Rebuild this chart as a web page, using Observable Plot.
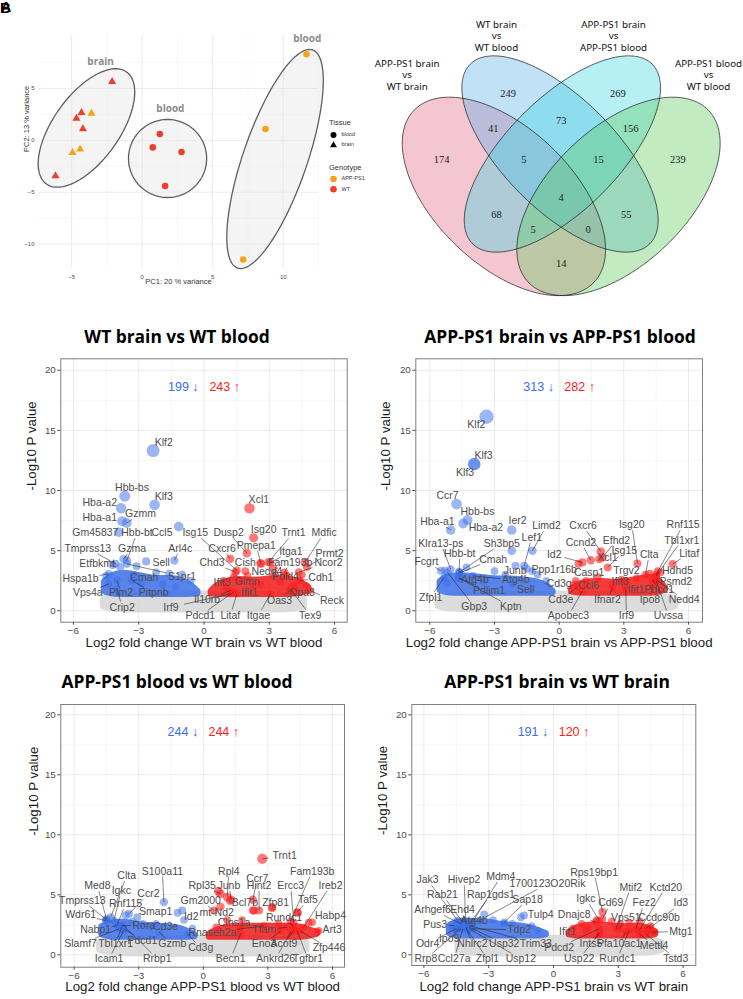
<!DOCTYPE html>
<html><head><meta charset="utf-8">
<script src="https://cdn.jsdelivr.net/npm/d3@7"></script>
<script src="https://cdn.jsdelivr.net/npm/@observablehq/plot@0.6"></script>
<style>
html,body{margin:0;padding:0;background:#fff;}
body{width:743px;height:999px;position:relative;overflow:hidden;font-family:"Liberation Sans",Arial,sans-serif;}
.box{position:absolute;}
.title{position:absolute;font-family:"Open Sans",sans-serif;font-weight:700;font-size:17.4px;color:#000;white-space:nowrap;transform:translate(-50%,-50%);line-height:1;}
.leg{position:absolute;font-family:"Liberation Sans",Arial,sans-serif;color:#333;white-space:nowrap;transform:translateY(-50%);line-height:1;}
</style></head><body>
<script>
// ================= DATA =================
// --- PCA ---
const pcaPC1 = [-2.13,-4.3,-3.6,-4.66,-4.2,-4.4,-4.94,-6.15, 1.25,0.75,2.79,1.63, 11.65,8.74,7.16];
const pcaPC2 = [5.65,2.66,2.6,2.12,1.09,-0.84,-1.2,-3.44, 0.61,-0.68,-1.13,-4.4, 8.29,1.09,-11.48];
const pcaTissue = ["brain","brain","brain","brain","brain","brain","brain","brain","blood","blood","blood","blood","blood","blood","blood"];
const pcaGenotype = ["WT","WT","APP-PS1","WT","WT","APP-PS1","APP-PS1","WT","WT","WT","WT","WT","APP-PS1","APP-PS1","APP-PS1"];
const pcaGroupName = ["brain","blood","blood"];
const pcaGroupLabelX = [-2.95, 2.0, 11.7];
const pcaGroupLabelY = [7.58, 3.02, 9.74];
const pcaEllipseCenter = [[-3.95,1.19],[1.8,-1.75],[9.42,-1.8]];
const pcaEllipseAxisU = [[2.84,5.40],[2.77,0],[2.66,10.51]];
const pcaEllipseAxisV = [[1.91,-1.85],[0,3.76],[2.15,-1.0]];

// --- Venn ---
const vennSetNames = ["APP-PS1 brain\nvs\nWT brain","WT brain\nvs\nWT blood","APP-PS1 brain\nvs\nAPP-PS1 blood","APP-PS1 blood\nvs\nWT blood"];
const vennCounts = [174,249,269,239,41,73,156,5,15,4,68,55,5,0,14];

// --- Volcano: WT brain vs WT blood --- [gene, log2FC, -log10P, labelX, labelY]
const wtBrainBloodCounts = [199, 243];
const wtBrainBloodGenes = [
 ["Klf2",-2.34,13.32,-1.85,14.02],["Hbb-bs",-3.64,9.53,-3.31,10.28],["Klf3",-2.27,8.81,-1.85,9.5],
 ["Hba-a2",-3.81,8.53,-4.79,8.97],["Xcl1",2.09,8.53,2.52,9.22],["Hba-a1",-3.76,7.45,-4.79,7.73],
 ["Gzmm",-3.55,7.3,-2.92,8.06],["Ccl5",-1.16,7.0,-1.93,6.48],["Gm45837",-3.92,6.53,-4.99,6.48],
 ["Hbb-bt",-3.54,4.18,-3.08,6.48],["Tmprss13",-4.07,3.9,-5.34,5.2],["Gzma",-3.7,4.3,-3.31,5.2],
 ["Arl4c",-1.36,4.18,-1.09,5.2],["Etfbkmt",-3.84,3.63,-4.91,3.96],["Sell",-2.66,4.1,-1.97,4.01],
 ["Hspa1b",-4.38,3.07,-5.67,2.66],["Cmah",-3.23,3.0,-2.74,2.74],["S1pr1",-3.54,3.9,-1.01,2.85],
 ["Vps4a",-4.38,2.24,-5.34,1.47],["Pim2",-4.0,2.52,-3.81,1.47],["Pitpnb",-3.31,2.52,-2.31,1.47],
 ["Crip2",-4.0,1.83,-3.76,0.3],["Il10rb",1.21,1.69,0.14,0.91],["Irf9",1.21,1.41,-1.52,0.3],
 ["Pdcd1",1.36,1.55,-0.17,-0.39],["Litaf",1.51,1.41,1.21,-0.39],["Itgae",3.05,1.41,2.5,-0.39],
 ["Oas3",3.96,1.69,3.47,0.86],["Tex9",3.96,1.83,4.88,-0.39],["Reck",4.88,1.69,5.88,0.86],
 ["Opa3",4.2,1.8,4.5,1.5],["Cdh1",4.42,2.52,5.37,2.72],["Pold4",3.81,2.93,3.74,2.8],
 ["Ifit1",2.28,2.1,2.09,1.47],["Ifit3",1.36,2.8,0.83,2.38],["Glmn",1.65,2.5,1.98,2.44],
 ["Nedd4",3.2,2.9,2.89,3.25],["Chd3",1.44,3.21,0.37,4.01],["Cish",2.59,3.96,1.9,4.01],
 ["Cxcr6",1.21,4.32,0.83,5.2],["Isg15",1.51,3.35,-0.4,6.48],["Dusp2",1.97,4.79,1.13,6.48],
 ["Pmepa1",2.62,3.9,2.4,5.43],["Isg20",2.28,6.07,2.74,6.73],["Trnt1",2.96,4.04,4.11,6.48],
 ["Itga1",3.05,4.0,3.99,4.93],["Fam193b",3.7,3.2,3.96,4.04],["Mdfic",4.65,4.04,5.52,6.48],
 ["Prmt2",4.73,3.63,5.77,4.79],["Ncor2",4.35,3.21,5.72,4.01]
];
const wtBrainBloodExtra = [[-4.5,2.9],[-4.2,3.8],[-3.1,3.7],[-2.2,3.2],[-1.6,3.1],[-1.0,3.0],[-0.6,2.5],[-2.9,2.3],[-1.9,2.2],[-1.3,2.0],
 [3.73,2.93],[4.5,3.0],[4.35,2.6],[3.2,3.5],[2.6,2.2],[1.9,3.3],[0.9,2.5],[1.0,1.9],[2.0,2.9],[3.5,2.4],[4.1,2.1],[4.7,2.1]];
const wtBrainBloodGrey = [[-4.6,0.35,0.9],[-4.3,0.15,1.2],[-3,0.1,1.3],[-1.5,0.1,1.35],[0,0.1,1.35],[1.5,0.1,1.35],[3,0.1,1.3],[4.3,0.15,1.2],[4.6,0.35,0.9]];
const wtBrainBloodBlue = [[-4.55,1.6,2.4],[-4.2,1.4,3.0],[-3.6,1.4,3.1],[-3.0,1.4,2.9],[-2.5,1.4,2.7],[-2.0,1.4,2.6],[-1.5,1.4,2.7],[-1.0,1.4,2.5],[-0.6,1.4,2.1],[-0.3,1.45,1.6]];
const wtBrainBloodRed = [[0.35,1.45,1.6],[0.6,1.4,2.1],[1.0,1.4,2.4],[1.5,1.4,2.6],[2.0,1.4,2.5],[2.5,1.4,2.5],[3.0,1.4,2.6],[3.5,1.4,2.7],[4.0,1.4,2.6],[4.5,1.5,2.3],[4.8,1.65,1.9]];

// --- Volcano: APP-PS1 brain vs APP-PS1 blood ---
const appBrainBloodCounts = [313, 282];
const appBrainBloodGenes = [
 ["Klf2",-3.37,16.13,-3.84,15.46],["Klf3",-3.94,12.19,-3.51,12.88],["Klf3",-3.94,12.19,-4.36,11.5],
 ["Ccr7",-4.76,8.87,-5.18,9.61],["Hbb-bs",-4.25,7.54,-3.79,8.23],["Hba-a1",-5.03,6.71,-5.65,7.43],
 ["Hba-a2",-4.45,7.26,-3.4,6.93],["Ier2",-2.2,6.71,-1.93,7.48],["Limd2",-1.24,4.99,-0.59,7.07],
 ["Lef1",-1.62,3.74,-1.27,6.1],["Sh3bp5",-4.64,3.19,-2.66,5.6],["Klra13-ps",-5.03,3.46,-5.49,5.6],
 ["Hbb-bt",-4.64,3.25,-4.61,4.77],["Cmah",-4.6,3.15,-3.06,4.29],["Fcgrt",-5.49,3.33,-6.16,4.07],
 ["Junb",-2.02,3.74,-2.04,3.33],["Ppp1r16b",-1.24,3.3,-0.23,3.38],["Atg4b",-4.64,2.8,-3.9,2.63],
 ["Atg4b",-4.0,2.9,-2.01,2.55],["Sell",-2.16,2.22,-1.55,1.72],["Pdlim1",-4.64,2.7,-3.25,1.66],
 ["Zfpl1",-5.34,2.77,-5.96,1.11],["Gbp3",-5.18,3.19,-3.94,0.33],["Kptn",-4.64,2.72,-2.24,0.33],
 ["Id2",1.08,4.02,-0.23,4.66],["Ccnd2",1.47,4.2,1.01,5.68],["Cxcr6",1.93,4.93,1.11,7.07],
 ["Efhd2",2.01,4.43,2.66,5.87],["Xcl1",1.86,4.29,2.24,4.43],["Isg15",2.25,3.6,3.02,4.99],
 ["Isg20",3.63,3.93,3.37,7.15],["Rnf115",4.5,3.0,5.75,7.15],["Tbl1xr1",4.5,2.9,5.69,5.87],
 ["Clta",4.0,3.0,4.18,4.66],["Litaf",5.26,3.88,6.03,4.77],["Trgv2",3.09,2.5,3.12,3.33],
 ["Hdhd5",4.57,3.3,5.49,3.33],["Casp1",1.24,2.5,1.39,3.19],["Cd3g",0.77,2.5,0,2.22],
 ["Ifit3",2.47,2.2,2.82,2.41],["Ccl6",1.24,2.08,1.36,2.08],["Psmd2",4.5,2.8,5.41,2.41],
 ["Ifit1",3.09,2.08,3.56,1.72],["Pdcd1",4.33,2.6,4.64,1.72],["Nedd4",4.5,2.6,5.8,0.89],
 ["Cd3e",0.85,2.0,0.08,0.89],["Ifnar2",2.47,1.9,2.24,0.89],["Ipo8",4.33,2.2,4.21,0.89],
 ["Apobec3",1.08,1.66,0.43,-0.42],["Irf9",3.09,1.8,3.12,-0.42],["Uvssa",4.5,2.5,5.07,-0.42]
];
const appBrainBloodExtra = [[-2.2,4.99],[-5.3,3.33],[-5.2,2.3],[-4.3,3.6],[-3.0,3.3],[-2.5,3.0],[-1.5,3.5],[-1.0,3.0],[-0.6,2.5],[-3.5,2.4],
 [0.9,3.9],[4.2,3.1],[4.7,3.2],[3.6,2.7],[2.9,2.6],[1.8,2.8],[0.7,2.2]];
const appBrainBloodGrey = [[-5.6,0.4,0.9],[-5.2,0.15,1.2],[-3,0.1,1.3],[0,0.1,1.35],[3,0.1,1.3],[5.0,0.15,1.2],[5.4,0.4,0.9]];
const appBrainBloodBlue = [[-5.5,1.7,2.4],[-5.2,1.5,2.8],[-4.6,1.5,2.9],[-4,1.5,2.8],[-3.5,1.5,2.7],[-3,1.5,2.6],[-2.5,1.5,2.6],[-2,1.5,2.6],[-1.5,1.5,2.5],[-1,1.5,2.4],[-0.5,1.5,2.0],[-0.3,1.55,1.6]];
const appBrainBloodRed = [[0.6,1.6,1.8],[0.9,1.5,2.2],[1.5,1.5,2.4],[2.0,1.5,2.4],[2.5,1.5,2.3],[3.0,1.5,2.4],[3.5,1.5,2.5],[4.0,1.5,2.7],[4.4,1.5,2.8],[4.7,1.6,2.4],[4.9,1.75,1.9]];

// --- Volcano: APP-PS1 blood vs WT blood ---
const appBloodWtCounts = [244, 244];
const appBloodWtGenes = [
 ["Trnt1",2.74,8.0,3.78,8.28],["Ccr7",2.3,4.6,2.51,6.33],["Rpl4",1.11,4.81,1.19,6.97],
 ["Junb",1.3,4.6,1.19,5.78],["Rpl35",0.8,5.08,-0.05,5.78],["S100a11",-1.83,4.39,-1.9,6.97],
 ["Fam193b",4.06,2.8,5.06,6.97],["Hint2",2.59,3.69,2.59,5.78],["Ercc3",4.2,2.7,4.06,5.78],
 ["Ireb2",4.66,2.3,5.91,5.78],["Bcl7b",2.35,3.7,1.93,4.39],["Zfp81",3.2,3.97,3.36,4.39],
 ["Taf5",4.36,3.55,4.86,4.58],["Habp4",5.06,2.72,5.91,3.28],["Art3",5.37,2.03,5.99,2.11],
 ["Rundc1",4.2,2.3,3.75,3.14],["Tfam",3.9,2.3,2.82,2.11],["Clns1a",1.73,2.3,1.43,2.72],
 ["mt-Nd2",1.11,2.89,0.62,3.5],["Gm2000",0.5,3.69,-0.12,4.53],["Id2",-0.98,3.69,-0.56,3.22],
 ["Rnaseh2a",2.8,2.4,0.42,1.89],["Eno3",3.6,2.0,2.82,0.92],["Acot9",4.2,2.0,3.75,0.92],
 ["Zfp446",4.5,2.0,5.84,0.56],["Becn1",1.73,1.75,1.27,-0.33],["Ankrd26",4.06,1.9,3.36,-0.33],
 ["Tgfbr1",4.36,2.0,4.86,-0.33],["Clta",-4.3,3.14,-3.56,6.61],["Med8",-4.5,3.0,-4.92,5.78],
 ["Igkc",-4.15,2.86,-3.81,5.36],["Ccr2",-3.45,3.42,-2.55,5.08],["Tmprss13",-4.45,2.86,-5.62,4.53],
 ["Rnf115",-4.0,2.5,-3.61,4.25],["Wdr61",-4.54,2.86,-5.7,3.33],["Smap1",-3.06,3.14,-2.21,3.56],
 ["Nabp1",-4.0,2.44,-5.0,2.08],["Rora",-3.8,2.44,-2.76,2.44],["Cd3e",-2.46,2.31,-1.75,2.31],
 ["Slamf7",-3.9,2.17,-5.7,0.92],["Tbl1xr1",-3.8,2.3,-4.07,0.92],["Pdcd1",-3.7,2.17,-2.83,1.19],
 ["Gzmb",-2.06,1.89,-1.44,0.92],["Cd3g",-0.74,1.75,-0.12,0.56],["Icam1",-3.7,2.03,-4.38,-0.33],
 ["Rrbp1",-3.7,2.44,-2.14,-0.33]
];
const appBloodWtExtra = [[-4.5,2.9],[-3.3,2.8],[-2.8,2.6],[-2.2,2.6],[-1.2,3.5],[-0.9,2.9],[-0.5,2.2],[-3.6,3.3],
 [0.7,5.3],[1.25,4.5],[0.8,4.0],[2.3,3.7],[3.2,3.9],[4.4,3.5],[4.9,2.7],[5.3,1.9],[3.5,2.6],[1.8,2.9],[0.6,2.3]];
const appBloodWtGrey = [[-4.8,0.4,1.0],[-4.4,0.15,1.2],[-3,0.1,1.3],[0,0.1,1.35],[3,0.1,1.3],[4.4,0.15,1.2],[4.8,0.4,1.0]];
const appBloodWtBlue = [[-4.7,1.7,2.3],[-4.3,1.5,2.6],[-3.8,1.5,2.7],[-3.3,1.5,2.6],[-2.8,1.5,2.4],[-2.3,1.5,2.4],[-1.8,1.5,2.3],[-1.3,1.5,2.3],[-0.8,1.5,2.0],[-0.4,1.55,1.6]];
const appBloodWtRed = [[0.3,1.5,1.7],[0.7,1.5,2.1],[1.2,1.5,2.3],[1.8,1.5,2.4],[2.4,1.5,2.3],[3.0,1.5,2.4],[3.5,1.5,2.3],[4.0,1.5,2.4],[4.5,1.5,2.3],[5.0,1.6,2.0],[5.3,1.75,1.85]];

// --- Volcano: APP-PS1 brain vs WT brain ---
const appBrainWtCounts = [191, 120];
const appBrainWtGenes = [
 ["Jak3",-4.44,2.86,-5.83,6.25],["Hivep2",-4.06,2.72,-4.14,6.25],["Mdm4",-3.75,2.72,-2.44,6.53],
 ["1700123O20Rik",-3.44,2.86,-0.28,5.92],["Rab21",-4.2,2.72,-5.14,5.0],["Rap1gds1",-3.9,2.58,-2.9,5.0],
 ["Sap18",-2.28,2.72,-1.2,4.58],["Arhgef6",-4.28,2.58,-5.6,3.75],["Ehd4",-4.13,2.72,-4.21,3.75],
 ["Tulp4",-1.36,3.28,-0.59,3.33],["Pus3",-4.6,2.44,-5.48,2.53],["Atg4b",-3.98,2.44,-3.67,2.86],
 ["Tdp2",-3.75,2.17,-1.59,2.08],["Ipo9",-4.36,2.3,-4.83,1.33],["Odr4",-4.52,2.17,-5.83,0.92],
 ["Nhlrc2",-4.06,2.3,-3.75,0.92],["Usp32",-3.9,2.3,-2.28,0.92],["Trim33",-3.9,2.44,-0.82,0.92],
 ["Rrp8",-4.28,2.17,-5.91,-0.33],["Ccl27a",-4.2,2.17,-4.6,-0.33],["Zfpl1",-3.98,2.03,-3.06,-0.33],
 ["Usp12",-3.9,2.17,-1.51,-0.33],["Rps19bp1",2.27,3.56,1.88,6.89],["Mtif2",2.9,2.17,3.58,5.64],
 ["Kctd20",3.97,2.03,5.2,5.64],["Igkc",2.12,2.86,1.5,4.67],["Cd69",2.27,3.0,2.65,4.31],
 ["Fez2",3.81,2.17,4.2,4.31],["Id3",4.43,2.17,5.9,4.31],["Dnajc8",1.96,2.72,0.96,3.33],
 ["Vps51",3.04,2.17,3.35,3.08],["Ccdc90b",4.27,2.17,4.89,3.08],["Ifit1",1.5,2.03,0.65,1.94],
 ["Mtg1",4.58,1.89,5.9,1.94],["Pdcd2",2.12,2.17,0.26,0.64],["Ints5",2.12,1.89,1.73,0.92],
 ["Pfa10ac1",3.35,1.89,3.04,0.92],["Mettl4",3.97,1.75,4.66,0.78],["Usp22",2.12,1.75,1.19,-0.33],
 ["Rundc1",3.5,2.03,2.96,-0.33],["Tstd3",4.27,1.75,5.66,-0.33]
];
const appBrainWtExtra = [[-3.21,3.36],[-1.51,3.14],[-2.8,2.9],[-2.3,2.6],[-1.9,2.6],[-1.0,2.4],[-0.7,2.0],[-4.7,2.2],
 [0.9,2.2],[1.3,2.6],[2.0,2.9],[2.7,2.8],[3.1,2.6],[3.5,2.7],[4.0,2.8],[4.5,2.4],[4.7,1.9],[1.6,2.3]];
const appBrainWtGrey = [[-4.4,0.4,1.0],[-4.0,0.15,1.2],[-2,0.1,1.3],[0,0.1,1.35],[2,0.1,1.3],[4.6,0.15,1.2],[5.0,0.4,1.0]];
const appBrainWtBlue = [[-4.8,1.8,2.4],[-4.5,1.6,2.7],[-4.0,1.6,2.8],[-3.5,1.6,2.7],[-3.0,1.6,2.7],[-2.5,1.6,2.5],[-2.0,1.6,2.4],[-1.5,1.6,2.4],[-1.0,1.6,2.2],[-0.6,1.6,1.9],[-0.35,1.7,1.75]];
const appBrainWtRed = [[0.75,1.7,1.8],[1.0,1.6,2.2],[1.5,1.6,2.4],[2.0,1.6,2.5],[2.5,1.6,2.4],[3.0,1.6,2.3],[3.5,1.6,2.3],[4.0,1.6,2.4],[4.4,1.6,2.2],[4.7,1.7,1.9]];

// ================= DRAWING =================
const body = document.body;
function place(el, left, top){ const d=document.createElement("div"); d.className="box"; d.style.left=left+"px"; d.style.top=top+"px"; d.appendChild(el); body.appendChild(d); return d; }
function htmlText(cls, txt, left, top, extra){ const d=document.createElement("div"); d.className=cls; d.textContent=txt; d.style.left=left+"px"; d.style.top=top+"px"; if(extra) Object.assign(d.style, extra); body.appendChild(d); return d; }

// ---------- PCA ----------
const GENO_COL = {"APP-PS1":"#F9A11B","WT":"#EF3F2A"};
const pca = pcaPC1.map((x,i)=>({x, y:pcaPC2[i], tissue:pcaTissue[i], genotype:pcaGenotype[i]}));
const ellPts = [];
pcaEllipseCenter.forEach((c,k)=>{ const u=pcaEllipseAxisU[k], v=pcaEllipseAxisV[k];
  for(let i=0;i<=120;i++){ const t=2*Math.PI*i/120; ellPts.push({id:k, x:c[0]+u[0]*Math.cos(t)+v[0]*Math.sin(t), y:c[1]+u[1]*Math.cos(t)+v[1]*Math.sin(t)}); } });
const pcaLabels = pcaGroupName.map((n,i)=>({n, x:pcaGroupLabelX[i], y:pcaGroupLabelY[i]}));
const pcaPlot = Plot.plot({
  width:330, height:295, marginLeft:38, marginRight:12, marginTop:35, marginBottom:27,
  x:{domain:[-7.35,12.5]}, y:{domain:[-12.35,10.1]},
  style:{fontFamily:"Liberation Sans, Arial, sans-serif", fontSize:"6px", color:"#4D4D4D", background:"transparent", overflow:"visible"},
  marks:[
    Plot.gridX([-2.5,2.5,7.5,12.5],{stroke:"#F3F3F3",strokeOpacity:1,strokeWidth:0.6}),
    Plot.gridY([-7.5,-2.5,2.5,7.5],{stroke:"#F3F3F3",strokeOpacity:1,strokeWidth:0.6}),
    Plot.gridX([-5,0,5,10],{stroke:"#EBEBEB",strokeOpacity:1,strokeWidth:1}),
    Plot.gridY([-10,-5,0,5],{stroke:"#EBEBEB",strokeOpacity:1,strokeWidth:1}),
    Plot.line(ellPts,{x:"x",y:"y",z:"id",fill:"#E6E6E6",fillOpacity:0.45,stroke:"#5E5E5E",strokeWidth:1.3}),
    Plot.dot(pca.filter(d=>d.tissue==="brain"),{x:"x",y:"y",symbol:"triangle",r:3.0,fill:d=>GENO_COL[d.genotype],stroke:null}),
    Plot.dot(pca.filter(d=>d.tissue==="blood"),{x:"x",y:"y",symbol:"circle",r:3.3,fill:d=>GENO_COL[d.genotype],stroke:null}),
    Plot.text(pcaLabels,{x:"x",y:"y",text:"n",fill:"#8C8C8C",fontSize:10,fontWeight:"bold",fontFamily:"Open Sans, sans-serif"}),
    Plot.axisX({ticks:[-5,0,5,10],tickSize:0,tickPadding:6,label:null,fontSize:6}),
    Plot.axisY({ticks:[-10,-5,0,5],tickSize:0,tickPadding:4,label:null,fontSize:6}),
    Plot.text(["PC1: 20 % variance"],{frameAnchor:"bottom",dy:15,fontSize:7.5,fill:"#333"}),
    Plot.text(["PC2: 13 % variance"],{frameAnchor:"left",rotate:-90,dx:-12,fontSize:7.5,fill:"#333"})
  ]
});
place(pcaPlot, 0, 0);
// PCA legend
htmlText("leg","Tissue",329,123,{fontSize:"7.5px"});
htmlText("leg","blood",341.5,135,{fontSize:"5.5px"});
htmlText("leg","brain",341.5,145,{fontSize:"5.5px"});
htmlText("leg","Genotype",329,168,{fontSize:"7.5px"});
htmlText("leg","APP-PS1",341.5,179,{fontSize:"5.5px"});
htmlText("leg","WT",341.5,189.5,{fontSize:"5.5px"});
{
  const ns="http://www.w3.org/2000/svg";
  const svg=document.createElementNS(ns,"svg"); svg.setAttribute("width","12"); svg.setAttribute("height","62");
  const mk=(tag,attrs)=>{const e=document.createElementNS(ns,tag); for(const k in attrs) e.setAttribute(k,attrs[k]); svg.appendChild(e);};
  mk("circle",{cx:4.5,cy:4,r:3,fill:"#000"});
  mk("path",{d:"M4.5,10.3 L8,16.3 L1,16.3 Z",fill:"#000"});
  mk("circle",{cx:4.5,cy:48,r:3.3,fill:GENO_COL["APP-PS1"]});
  mk("circle",{cx:4.5,cy:58.3,r:3.3,fill:GENO_COL["WT"]});
  place(svg, 329, 131);
}
htmlText("leg","B",0,7,{fontSize:"15px",fontWeight:"900",color:"#000"});
htmlText("leg","A",1,7,{fontSize:"14px",fontWeight:"900",color:"#000"});

// ---------- Venn ----------
const vennGeom = { cx:[503.4,559.5,561.9,618], cy:[195.9,153.5,153.5,195.9], a:[124.5,127,127,124.5], b:[68.4,56,56,68.4], deg:[43.7,45,135,136.3] };
const vennColors = ["#E26A85","#5AAFE8","#3FD6E3","#5ECB5E"];
const vennRings = [];
for(let k=0;k<4;k++){ const th=vennGeom.deg[k]*Math.PI/180, c=Math.cos(th), s=Math.sin(th);
  for(let i=0;i<=160;i++){ const t=2*Math.PI*i/160, ca=vennGeom.a[k]*Math.cos(t), sb=vennGeom.b[k]*Math.sin(t);
    vennRings.push({id:k, x:vennGeom.cx[k]+ca*c-sb*s, y:vennGeom.cy[k]+ca*s+sb*c}); } }
const vennLabelPos = {x:[406.7,496,613,708], y:[74,35,35,74]};
const vennCountPos = {x:[441,507.7,617.3,677.3,492.7,560.7,630,523.3,598,560.7,496,625.7,532.7,587.7,560.7],
                      y:[159,92.7,92.7,159,128.3,120,127.7,159,159,196.7,214.3,214.3,229.3,229.3,263.3]};
const vennPlot = Plot.plot({
  width:371, height:300, margin:0,
  x:{domain:[372,743],axis:null}, y:{domain:[0,300],reverse:true,axis:null},
  style:{background:"transparent",overflow:"visible"},
  marks:[
    ...[0,1,2,3].map(k=>Plot.line(vennRings.filter(d=>d.id===k),{x:"x",y:"y",fill:vennColors[k],fillOpacity:0.38,stroke:null})),
    Plot.line(vennRings,{x:"x",y:"y",z:"id",stroke:"#1a1a1a",strokeWidth:0.7,fill:"none"}),
    Plot.text(vennCounts,{x:(d,i)=>vennCountPos.x[i],y:(d,i)=>vennCountPos.y[i],text:d=>String(d),fontFamily:"Liberation Serif, serif",fontSize:10.5,fill:"#222"}),
    Plot.text(vennSetNames,{x:(d,i)=>vennLabelPos.x[i],y:(d,i)=>vennLabelPos.y[i],text:d=>d,fontFamily:"Noto Sans, sans-serif",fontSize:9.8,lineHeight:1.2,fill:"#111"})
  ]
});
place(vennPlot, 372, 0);

// ---------- Volcano ----------
const BLUE="#3A6EE8", RED="#F21A1A", GREY="#D6D6D6";
function volcano(box, cfg){
  const {w,h,mL,mR,mT,mB,xd,yd,ylabDx,xlabDy} = box;
  const kx=(w-mL-mR)/(xd[1]-xd[0]), ky=(h-mT-mB)/(yd[1]-yd[0]);
  const genes=cfg.genes.map(g=>({gene:g[0],x:g[1],y:g[2],lx:g[3],ly:g[4]}));
  const pts=cfg.extra.map(e=>({x:e[0],y:e[1]})).concat(genes);
  const segs=[];
  for(const p of genes){
    const dx=(p.x-p.lx)*kx, dy=(p.y-p.ly)*ky;
    const hw=p.gene.length*2.9+1.5, hh=5.5;
    const tx=Math.abs(dx)>1e-6?hw/Math.abs(dx):Infinity, ty=Math.abs(dy)>1e-6?hh/Math.abs(dy):Infinity;
    const t=Math.min(tx,ty);
    if(t>=1) continue;
    if(Math.hypot(dx,dy)*(1-t)<5) continue;
    segs.push({x1:p.lx+(p.x-p.lx)*t,y1:p.ly+(p.y-p.ly)*t,x2:p.x,y2:p.y});
  }
  const area=(data,col)=>Plot.areaY(data,{x:d=>d[0],y1:d=>d[1],y2:d=>d[2],fill:col,stroke:col,strokeWidth:7,strokeLinejoin:"round",curve:"basis",opacity:0.85});
  return Plot.plot({
    width:w,height:h,marginLeft:mL,marginRight:mR,marginTop:mT,marginBottom:mB,
    x:{domain:xd}, y:{domain:yd},
    r:{type:"linear",domain:[1.3,16.2],range:[3.4,7.2],clamp:true},
    style:{fontFamily:"Liberation Sans, Arial, sans-serif",fontSize:"9.8px",color:"#4D4D4D",background:"transparent",overflow:"visible"},
    marks:[
      Plot.frame({fill:"#fff",stroke:null}),
      Plot.gridX([-4.5,-1.5,1.5,4.5],{stroke:"#F0F0F0",strokeOpacity:1,strokeWidth:0.6}),
      Plot.gridY([2.5,7.5,12.5,17.5],{stroke:"#F0F0F0",strokeOpacity:1,strokeWidth:0.6}),
      Plot.gridX([-6,-3,0,3,6],{stroke:"#EBEBEB",strokeOpacity:1,strokeWidth:1}),
      Plot.gridY([0,5,10,15,20],{stroke:"#EBEBEB",strokeOpacity:1,strokeWidth:1}),
      area(cfg.grey,GREY), area(cfg.blue,BLUE), area(cfg.red,RED),
      Plot.dot(pts.filter(d=>d.x<0),{x:"x",y:"y",r:"y",fill:BLUE,fillOpacity:0.5,stroke:null}),
      Plot.dot(pts.filter(d=>d.x>0),{x:"x",y:"y",r:"y",fill:"#FF2020",fillOpacity:0.6,stroke:null}),
      Plot.frame({stroke:"#7F7F7F",strokeWidth:1}),
      Plot.axisX({ticks:[-6,-3,0,3,6],tickSize:3,tickPadding:2,label:null}),
      Plot.axisY({ticks:[0,5,10,15,20],tickSize:3,tickPadding:2,label:null}),
      Plot.link(segs,{x1:"x1",y1:"y1",x2:"x2",y2:"y2",stroke:"#222",strokeWidth:0.55}),
      Plot.text(genes,{x:"lx",y:"ly",text:"gene",fill:"#4D4D4D",fontSize:10.5}),
      Plot.text([cfg.counts[0]+" \u2193"],{x:-0.95,y:18.6,fill:"#3D6EF0",fontSize:12.5}),
      Plot.text([cfg.counts[1]+" \u2191"],{x:0.95,y:18.6,fill:"#FF1A1A",fontSize:12.5}),
      Plot.text([cfg.xlabel],{frameAnchor:"bottom",dy:xlabDy,fontSize:13.3,fill:"#1A1A1A"}),
      Plot.text(["-Log10 P value"],{frameAnchor:"left",rotate:-90,dx:ylabDx,fontSize:13.3,fill:"#1A1A1A"})
    ]
  });
}
place(volcano({w:372,h:310,mL:60.3,mR:25.3,mT:8.3,mB:38.3,xd:[-6.58,6.58],yd:[-0.95,20.95],ylabDx:-28.6,xlabDy:25},
  {genes:wtBrainBloodGenes,extra:wtBrainBloodExtra,grey:wtBrainBloodGrey,blue:wtBrainBloodBlue,red:wtBrainBloodRed,counts:wtBrainBloodCounts,xlabel:"Log2 fold change WT brain vs WT blood"}), 0, 350);
place(volcano({w:371,h:310,mL:43.3,mR:41,mT:8.3,mB:38.3,xd:[-6.65,6.65],yd:[-0.95,20.95],ylabDx:-30,xlabDy:25},
  {genes:appBrainBloodGenes,extra:appBrainBloodExtra,grey:appBrainBloodGrey,blue:appBrainBloodBlue,red:appBrainBloodRed,counts:appBrainBloodCounts,xlabel:"Log2 fold change APP-PS1 brain vs APP-PS1 blood"}), 372, 350);
place(volcano({w:372,h:304,mL:60.3,mR:28,mT:9,mB:32.3,xd:[-6.62,6.56],yd:[-1.03,20.86],ylabDx:-27,xlabDy:24},
  {genes:appBloodWtGenes,extra:appBloodWtExtra,grey:appBloodWtGrey,blue:appBloodWtBlue,red:appBloodWtRed,counts:appBloodWtCounts,xlabel:"Log2 fold change APP-PS1 blood vs WT blood"}), 0, 695);
place(volcano({w:371,h:304,mL:39.3,mR:47.7,mT:9,mB:34,xd:[-6.56,6.59],yd:[-0.89,20.86],ylabDx:-29,xlabDy:25},
  {genes:appBrainWtGenes,extra:appBrainWtExtra,grey:appBrainWtGrey,blue:appBrainWtBlue,red:appBrainWtRed,counts:appBrainWtCounts,xlabel:"Log2 fold change APP-PS1 brain vs WT brain"}), 372, 695);

// titles
htmlText("title","WT brain vs WT blood",177,337);
htmlText("title","APP-PS1 brain vs APP-PS1 blood",560,337);
htmlText("title","APP-PS1 blood vs WT blood",177,681.7);
htmlText("title","APP-PS1 brain vs WT brain",557,681.7);
</script>
</body></html>
